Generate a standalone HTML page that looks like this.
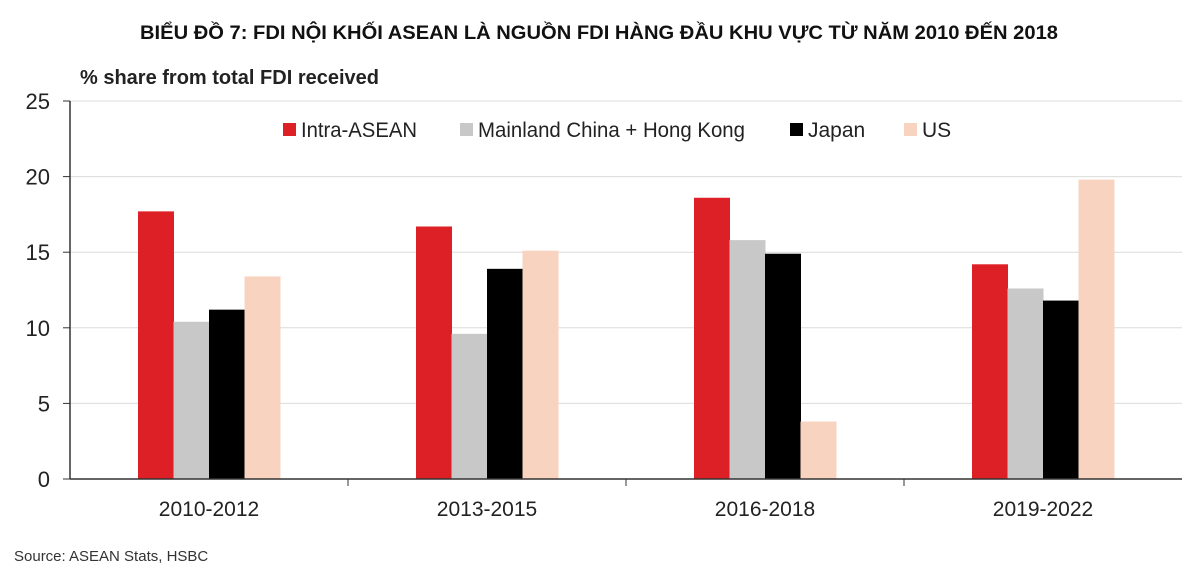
<!DOCTYPE html>
<html><head><meta charset="utf-8"><style>
body{margin:0;background:#fff;width:1200px;height:579px;overflow:hidden;font-family:"Liberation Sans",sans-serif}
</style></head><body>
<svg width="1200" height="579">
<text x="140" y="39" textLength="918" lengthAdjust="spacingAndGlyphs" font-size="19" font-weight="bold" fill="#111" font-family="'Liberation Sans',sans-serif">BIỂU ĐỒ 7: FDI NỘI KHỐI ASEAN LÀ NGUỒN FDI HÀNG ĐẦU KHU VỰC TỪ NĂM 2010 ĐẾN 2018</text>
<text x="80" y="84" font-size="20" font-weight="bold" fill="#222">% share from total FDI received</text>
<g id="grid"></g><g id="bars"></g><g id="axes"></g>
<g font-size="21" fill="#222">
<rect x="283" y="123" width="13" height="13" fill="#dd1f26"/><text x="301" y="137" textLength="116" lengthAdjust="spacingAndGlyphs">Intra-ASEAN</text>
<rect x="460" y="123" width="13" height="13" fill="#c8c8c8"/><text x="478" y="137" textLength="267" lengthAdjust="spacingAndGlyphs">Mainland China + Hong Kong</text>
<rect x="790" y="123" width="13" height="13" fill="#000"/><text x="808" y="137">Japan</text>
<rect x="904" y="123" width="13" height="13" fill="#f8d3c0"/><text x="922" y="137">US</text>
</g>
<text x="14" y="561" font-size="15" fill="#333">Source: ASEAN Stats, HSBC</text>
</svg>
<script>
const categories=["2010-2012","2013-2015","2016-2018","2019-2022"];
const intraAsean=[17.7,16.7,18.6,14.2];
const chinaHK=[10.4,9.6,15.8,12.6];
const japan=[11.2,13.9,14.9,11.8];
const us=[13.4,15.1,3.8,19.8];
const yTicks=[0,5,10,15,20,25];
const series=[intraAsean,chinaHK,japan,us];
const seriesNames=["intra-asean","china-hk","japan","us"];
const colors=["#dd1f26","#c8c8c8","#000000","#f8d3c0"];
const NS="http://www.w3.org/2000/svg";
const x0=70,x1=1182,y0=479,yTop=101,yMax=25;
const y=v=>y0-(v/yMax)*(y0-yTop);
const cw=(x1-x0)/categories.length,bw=35.5;
function mk(t,a,p){const e=document.createElementNS(NS,t);for(const k in a)e.setAttribute(k,a[k]);p.appendChild(e);return e;}
const grid=document.getElementById('grid'),bars=document.getElementById('bars'),axes=document.getElementById('axes');
yTicks.forEach(t=>{
 if(t>0){const g=mk('line',{x1:x0,x2:x1,y1:y(t),y2:y(t),stroke:'#dcdcdc','stroke-width':1},grid);
 
 }
 mk('line',{x1:x0-7,x2:x0,y1:y(t),y2:y(t),stroke:'#333'},axes);
 const l=mk('text',{x:x0-20,y:y(t)+8,'text-anchor':'end','font-size':22,fill:'#222'},axes);
 l.textContent=t;
 
 
});
categories.forEach((c,i)=>{
 const cx=x0+cw*(i+0.5);
 series.forEach((s,j)=>{
  const bx=cx-2*bw+j*bw;
  const r=mk('rect',{x:bx,y:y(s[i]),width:bw+0.5,height:y0-y(s[i]),fill:colors[j]},bars);
  
  
 });
 const l=mk('text',{x:cx,y:y0+37,'text-anchor':'middle','font-size':21,fill:'#222'},axes);
 l.textContent=c;
 
 
 if(i>0)mk('line',{x1:x0+cw*i,x2:x0+cw*i,y1:y0,y2:y0+7,stroke:'#333'},axes);
});
mk('line',{x1:x0,x2:x0,y1:yTop,y2:y0,stroke:'#333','stroke-width':1.5},axes);
mk('line',{x1:x0,x2:x1,y1:y0,y2:y0,stroke:'#333','stroke-width':1.5},axes);
</script>
</body></html>
